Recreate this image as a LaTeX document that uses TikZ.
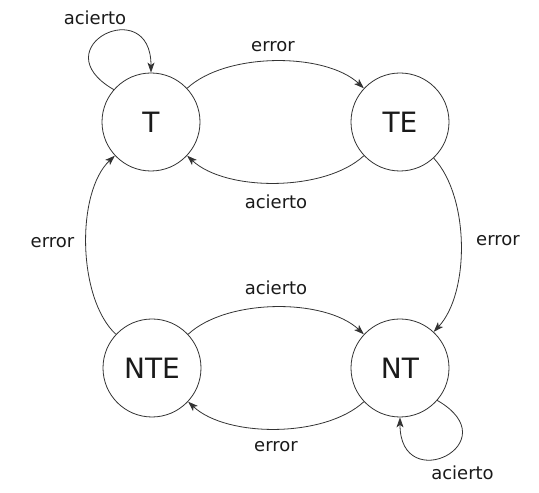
\documentclass[tikz,border=0pt]{standalone}
\usepackage{fontspec}
\setmainfont{DejaVu Sans}
\usetikzlibrary{arrows.meta}
\definecolor{linegray}{HTML}{333333}
\definecolor{textblack}{HTML}{1A1A1A}
\begin{document}
\begin{tikzpicture}[x=1pt,y=1pt,
  state/.style={circle,draw=linegray,line width=0.8pt,minimum size=98pt,inner sep=0pt,
    font=\fontsize{28}{32}\selectfont,text=textblack},
  lbl/.style={font=\fontsize{18}{21}\selectfont,text=textblack,inner sep=0pt},
  conn/.style={draw=linegray,line width=0.8pt,-{Stealth[length=10pt,width=7pt,inset=2.5pt]}}]
\useasboundingbox (0,0) rectangle (539,493);
\node[state] (T) at (151,371) {T};
\node[state] (TE) at (400,371) {TE};
\node[state] (NTE) at (152,125) {NTE};
\node[state] (NT) at (400,125) {NT};
% connectors
\draw[conn] (T.43) .. controls +(43:53) and +(137:53) .. (TE.137);
\draw[conn] (TE.-137) .. controls +(-137:53) and +(-43:53) .. (T.-43);
\draw[conn] (NTE.43) .. controls +(43:53) and +(137:53) .. (NT.137);
\draw[conn] (NT.-137) .. controls +(-137:53) and +(-43:53) .. (NTE.-43);
\draw[conn] (NTE.137) .. controls +(137:53) and +(-137:53) .. (T.-137);
\draw[conn] (TE.-47) .. controls +(-47:53) and +(47:53) .. (NT.47);
\draw[conn] (T.139) .. controls +(150:85) and +(90:80) .. (T.90);
\draw[conn] (NT.-41) .. controls +(-30:85) and +(-90:80) .. (NT.-90);
% labels
\node[lbl] (l1) at (95,475) {acierto};
\node[lbl] (l2) at (273,446) {error};
\node[lbl] (l3) at (276,291) {acierto};
\node[lbl] (l4) at (52.5,250) {error};
\node[lbl] (l5) at (498,252) {error};
\node[lbl] (l6) at (276,205) {acierto};
\node[lbl] (l7) at (276,46) {error};
\node[lbl] (l8) at (462.5,20) {acierto};
\end{tikzpicture}
\end{document}
